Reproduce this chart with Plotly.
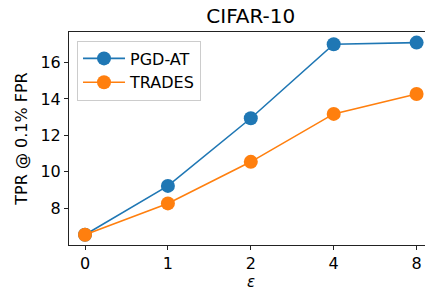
import plotly.graph_objects as go

eps_labels = ["0", "1", "2", "4", "8"]
pgd_at = [6.55, 9.23, 12.94, 17.0, 17.09]
trades = [6.55, 8.27, 10.55, 13.18, 14.27]

fig = go.Figure()
fig.add_trace(go.Scatter(x=eps_labels, y=pgd_at, name="PGD-AT", mode="lines+markers",
                         line=dict(color="#1f77b4", width=1.6),
                         marker=dict(size=14, color="#1f77b4")))
fig.add_trace(go.Scatter(x=eps_labels, y=trades, name="TRADES", mode="lines+markers",
                         line=dict(color="#ff7f0e", width=1.6),
                         marker=dict(size=14, color="#ff7f0e")))

fig.update_layout(
    width=440, height=288,
    margin=dict(l=69, r=7, t=32, b=43),
    paper_bgcolor="white", plot_bgcolor="white",
    font=dict(family="DejaVu Sans", size=16, color="black"),
    title=dict(text="CIFAR-10", x=0.570, xanchor="center", y=0.944, yanchor="middle",
               font=dict(size=20, color="black")),
    showlegend=True,
    legend=dict(x=0.022, y=0.96, xanchor="left", yanchor="top",
                bordercolor="#cccccc", borderwidth=1, bgcolor="rgba(255,255,255,0.8)",
                font=dict(size=16), tracegroupgap=0, itemwidth=42),
    annotations=[dict(text="<i>ε</i>", x=0.5, y=-0.172, xref="paper", yref="paper",
                      xanchor="center", yanchor="middle", showarrow=False,
                      font=dict(size=15, color="black"))],
)
fig.update_xaxes(type="category", range=[-0.193, 4.198], showgrid=False, zeroline=False,
                 automargin=False,
                 showline=True, linecolor="#222222", linewidth=1, mirror=True,
                 ticks="outside", ticklen=4, tickcolor="#222222")
fig.update_yaxes(range=[5.99, 17.67], showgrid=False, zeroline=False,
                 automargin=False,
                 showline=True, linecolor="#222222", linewidth=1, mirror=True,
                 ticks="outside", ticklen=4, tickcolor="#222222",
                 tickvals=[8, 10, 12, 14, 16],
                 title=dict(text="TPR @ 0.1% FPR", standoff=8, font=dict(size=16)))

fig.write_html("out.html", config={"displayModeBar": False},
               post_script="document.body.style.margin='0';document.body.style.overflow='hidden';")
